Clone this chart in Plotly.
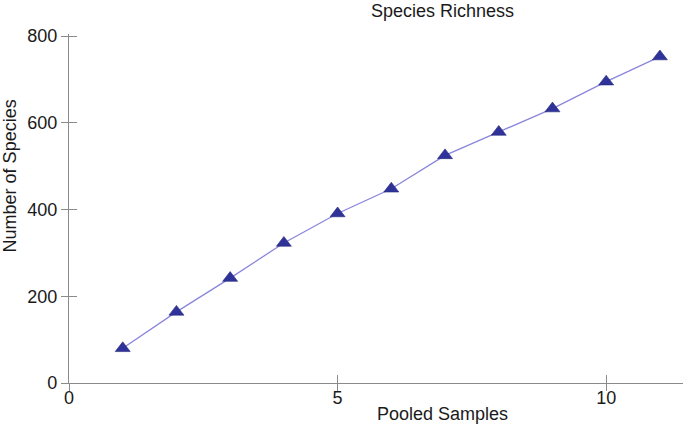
import plotly.graph_objects as go

pooled_samples = [1, 2, 3, 4, 5, 6, 7, 8, 9, 10, 11]
species_counts = [80, 164, 242, 323, 391, 448, 525, 579, 633, 695, 753]
x_tick_vals = [0, 5, 10]
y_tick_vals = [0, 200, 400, 600, 800]

FONT = "Liberation Sans, Arial, Helvetica, sans-serif"
AXIS_COLOR = "#8a8a8a"
TEXT_COLOR = "#1a1a1a"
X_RANGE = [0, 11.43]
Y_RANGE = [0, 805]

fig = go.Figure()
fig.add_trace(go.Scatter(
    x=pooled_samples, y=species_counts, mode="lines+markers",
    line=dict(color="#8a86dc", width=1.3),
    marker=dict(symbol="triangle-up", size=13, color="#2f3399",
                line=dict(color="#23267a", width=0.6)),
    showlegend=False, hoverinfo="x+y",
))
# invisible helper trace so the overlay axes (inner half of ticks) render
fig.add_trace(go.Scatter(x=[None], y=[None], xaxis="x2", yaxis="y2",
                         showlegend=False, hoverinfo="skip"))

common = dict(showgrid=False, zeroline=False, linecolor=AXIS_COLOR,
              tickcolor=AXIS_COLOR, tickwidth=1.3, linewidth=1.4, automargin=False,
              tickfont=dict(family=FONT, size=18, color=TEXT_COLOR))

fig.update_layout(
    width=685, height=428,
    margin=dict(l=69, r=2, t=33.5, b=45.3),
    paper_bgcolor="white", plot_bgcolor="white",
    font=dict(family=FONT, size=18, color=TEXT_COLOR),
    xaxis=dict(range=X_RANGE, tickvals=x_tick_vals, ticks="outside", ticklen=7,
               showline=True, ticklabelstandoff=-9, **common),
    yaxis=dict(range=Y_RANGE, tickvals=y_tick_vals, ticks="outside", ticklen=7,
               showline=True, **common),
    xaxis2=dict(range=X_RANGE, tickvals=x_tick_vals, ticks="inside", ticklen=8,
                overlaying="x", anchor="y2", showticklabels=False, showline=False,
                showgrid=False, zeroline=False, tickcolor=AXIS_COLOR, tickwidth=1.3,
                automargin=False),
    yaxis2=dict(range=Y_RANGE, tickvals=y_tick_vals, ticks="inside", ticklen=8,
                overlaying="y", anchor="x2", showticklabels=False, showline=False,
                showgrid=False, zeroline=False, tickcolor=AXIS_COLOR, tickwidth=1.3,
                automargin=False),
    annotations=[
        dict(text="Species Richness", x=0.609, y=1.0673, xref="paper", yref="paper",
             showarrow=False, font=dict(family=FONT, size=18, color=TEXT_COLOR),
             xanchor="center", yanchor="middle"),
        dict(text="Pooled Samples", x=0.609, y=-0.0896, xref="paper", yref="paper",
             showarrow=False, font=dict(family=FONT, size=18, color=TEXT_COLOR),
             xanchor="center", yanchor="middle"),
        dict(text="Number of Species", x=-0.0961, y=0.5948, xref="paper", yref="paper",
             showarrow=False, textangle=-90, font=dict(family=FONT, size=18, color=TEXT_COLOR),
             xanchor="center", yanchor="middle"),
    ],
)

fig.write_html("out.html", config={"displayModeBar": False},
               post_script="document.body.style.margin='0';")
